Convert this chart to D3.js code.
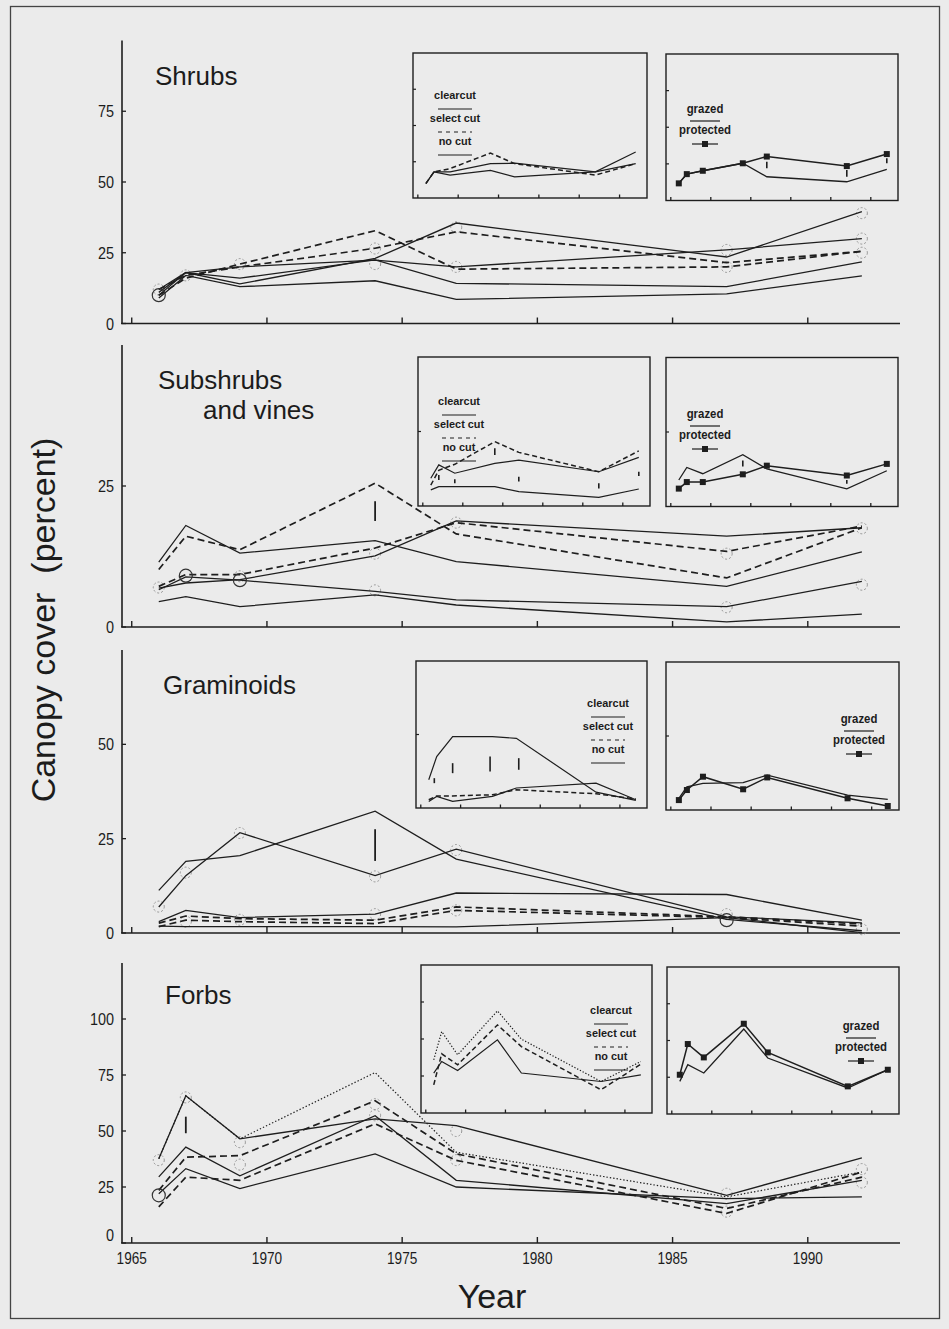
<!DOCTYPE html>
<html><head><meta charset="utf-8">
<script src="https://cdn.jsdelivr.net/npm/d3@7"></script>
<style>
html,body{margin:0;padding:0;background:#ebebeb;}
svg{display:block;}
text{font-family:"Liberation Sans",Arial,sans-serif;fill:#1c1c1c;}
</style></head><body>
<svg id="c" width="949" height="1329"></svg>
<script>
// ---------------- DATA ----------------
const years = [1966, 1967, 1969, 1974, 1977, 1987, 1992];
const xTickYears = [1965, 1970, 1975, 1980, 1985, 1990];
const xTickLabels = ["1965", "1970", "1975", "1980", "1985", "1990"];
const panelTitles = [["Shrubs"], ["Subshrubs", "and vines"], ["Graminoids"], ["Forbs"]];
const panelMax = [100, 50, 75, 125];
const panelTickValues = [[0, 25, 50, 75], [0, 25], [0, 25, 50], [0, 25, 50, 75, 100]];
const insetMax = [100, 50, 100, 100];
const insetTickValues = [[25, 50, 75], [25], [50], [25, 50, 75]];
const legendCutLabels = ["clearcut", "select cut", "no cut"];
const legendGrazeLabels = ["grazed", "protected"];

// main panels: six treatment lines each
const shrubsLines = [
  [12, 18, 14, 23, 35.5, 23.5, 39.5],
  [12, 17, 20, 26.6, 32.4, 21.5, 25.5],
  [11, 18, 20, 22.4, 20, 26, 30],
  [10, 16, 21, 32.8, 19.2, 20, 25.5],
  [10, 18, 16, 22.5, 14.2, 13, 21.8],
  [9, 17, 13, 15.1, 8.5, 10.5, 16.8]];
const subshrubsLines = [
  [11.5, 18, 13.1, 15.3, 11.6, 7.2, 13.3],
  [10.2, 16.1, 13.7, 25.5, 16.5, 8.7, 17.6],
  [6.9, 7.8, 8.4, 12.6, 18.8, 16.1, 17.6],
  [7.2, 9.3, 9.3, 14, 18.5, 13.4, 17.9],
  [6.6, 8.9, 8.3, 6.3, 4.8, 3.6, 8.1],
  [4.5, 5.4, 3.6, 5.7, 3.9, 0.9, 2.3]];
const graminoidsLines = [
  [11.3, 19, 20.5, 32.3, 19.6, 3.6, 0.6],
  [6.9, 15.2, 26.6, 15.2, 22.2, 4.3, 2.7],
  [3, 6, 4.1, 5, 10.6, 10.2, 3.4],
  [2.6, 4.5, 3.8, 3.4, 6.9, 4.3, 2.4],
  [1.7, 3.4, 3, 2.5, 6, 4.1, 1.8],
  [1.8, 1.7, 1.7, 1.7, 1.6, 4.1, 0.1]];
const forbsLines = [
  [37.6, 65.7, 46.5, 76.1, 40.5, 20.6, 31.7],
  [37.6, 65.7, 46.5, 55.4, 52.4, 21.3, 38],
  [29.5, 42.8, 30, 56.8, 28, 17.6, 28],
  [23.5, 38.3, 39, 63.5, 39.8, 15.4, 29.4],
  [16.1, 29.4, 28, 53.2, 36.9, 13.2, 31.7],
  [22, 33.2, 24.3, 39.8, 25, 19.8, 20.6]];
const shrubsKinds = ["solid", "dashed", "solid", "dashed", "solid", "solid"];
const subshrubsKinds = ["solid", "dashed", "solid", "dashed", "solid", "solid"];
const graminoidsKinds = ["solid", "solid", "solid", "dashed", "dashed", "solid"];
const forbsKinds = ["dotted", "solid", "solid", "dashed", "dashed", "solid"];

// LSD bars [year, low, high]
const subshrubsBars = [[1974, 18.8, 22.3]];
const graminoidsBars = [[1974, 19.1, 27.5]];
const forbsBars = [[1967, 49, 56.4]];
// open circles (solid outline) [year, value]
const shrubsRings = [[1966, 10]];
const subshrubsRings = [[1967, 9.1], [1969, 8.3]];
const graminoidsRings = [[1987, 3.4]];
const forbsRings = [[1966, 21.3]];
// faint dotted circles [year, value]
const shrubsFaint = [[1966, 12], [1967, 17], [1969, 21], [1974, 26.5], [1974, 21], [1977, 34], [1977, 20], [1987, 26], [1987, 20], [1992, 39], [1992, 30], [1992, 25]];
const subshrubsFaint = [[1966, 7], [1969, 9], [1974, 13], [1974, 6.5], [1977, 18.5], [1987, 13], [1987, 3.5], [1992, 17.5], [1992, 7.5]];
const graminoidsFaint = [[1966, 7], [1967, 16], [1967, 3], [1969, 26.5], [1969, 3.5], [1974, 15], [1974, 5], [1977, 22], [1977, 6], [1987, 5], [1992, 1]];
const forbsFaint = [[1966, 37], [1967, 65], [1969, 45], [1969, 35], [1974, 62], [1974, 57], [1977, 50], [1977, 37], [1987, 22], [1987, 14], [1992, 33], [1992, 27]];

// insets A: cutting treatments
const shrubsInsetCut = [[10, 18, 15.8, 19, 14.6, 18, 23.7], [10, 18, 18, 23.7, 24, 18, 31.7], [10, 18, 20.3, 31, 23.7, 15.8, 23.7]];
const subshrubsInsetCut = [[9.3, 13.8, 11, 14.3, 15.4, 11.5, 16.3], [7, 12, 14, 21.6, 18, 11.5, 18.5], [5.4, 6.5, 6.5, 6.5, 4.8, 2.9, 5.7]];
const graminoidsInsetCut = [[19.2, 35, 48.5, 48.5, 47.4, 10.8, 5.2], [4.5, 7.9, 4.5, 7.9, 13.6, 16.9, 5.6], [5.6, 8.2, 8.2, 9, 12.4, 9.7, 6.1]];
const forbsInsetCut = [[35.9, 55, 39.3, 69, 49.9, 21.3, 34.8], [19, 40, 32.6, 59.5, 44.9, 15.7, 33], [27, 34.8, 28.7, 49.4, 27, 21.3, 25.8]];
const shrubsInsetKinds = ["solid", "solid", "dashed"];
const subshrubsInsetKinds = ["solid", "dashed", "solid"];
const graminoidsInsetKinds = ["solid", "solid", "dashed"];
const forbsInsetKinds = ["dotted", "dashed", "solid"];
// insets B: grazing treatments
const shrubsGrazed = [11.7, 18, 20.3, 25.4, 16.2, 12.8, 21.3];
const shrubsProtected = [11.7, 18, 20.3, 25.4, 30, 23.5, 31.7];
const subshrubsGrazed = [8.9, 13.1, 11, 17.4, 12.6, 5.9, 12];
const subshrubsProtected = [6, 8.2, 8.2, 10.8, 13.7, 10.4, 14.3];
const graminoidsGrazed = [7.9, 15.7, 18, 18.5, 23.6, 10, 7.2];
const graminoidsProtected = [6.7, 13.5, 22.5, 14, 22, 7.9, 2.7];
const forbsGrazed = [22.2, 33.5, 27.9, 57.8, 38.1, 17.7, 30.1];
const forbsProtected = [26.7, 47.6, 38.5, 61.4, 41.9, 18.8, 30.1];
// inset small bars
const shrubsInsetBBars = [[1977, 22, 26.5], [1987, 16.2, 20.8], [1992, 25.4, 28.8]];
const subshrubsInsetABars = [[1967, 8.7, 10.4], [1969, 7.6, 9], [1974, 17.1, 19.4], [1977, 8.2, 9.8], [1987, 5.9, 7.6], [1992, 10.1, 11.5]];
const subshrubsInsetBBars = [[1974, 13.4, 15.4], [1987, 7.6, 8.9]];
const graminoidsInsetABars = [[1966.7, 16.9, 20.3], [1969, 23.7, 30.5], [1973.7, 24.8, 35], [1977.3, 26, 33.9]];

// ---------------- DRAW ----------------
const W = 949, H = 1329;
const ink = "#1e1e1e";
const svg = d3.select("#c");
svg.append("rect").attr("width", W).attr("height", H).attr("fill", "#ebebeb");
svg.append("rect").attr("x", 10.5).attr("y", 6.5).attr("width", 929).attr("height", 1312)
  .attr("fill", "none").attr("stroke", "#444").attr("stroke-width", 1.3);

const x = d3.scaleLinear().domain([1964.64, 1993.41]).range([122, 900]);

const dashOf = k => k === "dashed" ? "7,4" : (k === "dotted" ? "1.4,2" : null);

const panels = [
  {lines: shrubsLines, kinds: shrubsKinds, bars: [], rings: shrubsRings, faint: shrubsFaint,
   icut: shrubsInsetCut, ikinds: shrubsInsetKinds, gz: shrubsGrazed, pr: shrubsProtected, iabars: [], ibbars: shrubsInsetBBars},
  {lines: subshrubsLines, kinds: subshrubsKinds, bars: subshrubsBars, rings: subshrubsRings, faint: subshrubsFaint,
   icut: subshrubsInsetCut, ikinds: subshrubsInsetKinds, gz: subshrubsGrazed, pr: subshrubsProtected, iabars: subshrubsInsetABars, ibbars: subshrubsInsetBBars},
  {lines: graminoidsLines, kinds: graminoidsKinds, bars: graminoidsBars, rings: graminoidsRings, faint: graminoidsFaint,
   icut: graminoidsInsetCut, ikinds: graminoidsInsetKinds, gz: graminoidsGrazed, pr: graminoidsProtected, iabars: graminoidsInsetABars, ibbars: []},
  {lines: forbsLines, kinds: forbsKinds, bars: forbsBars, rings: forbsRings, faint: forbsFaint,
   icut: forbsInsetCut, ikinds: forbsInsetKinds, gz: forbsGrazed, pr: forbsProtected, iabars: [], ibbars: []}
];

const layout = [
  {top: 40.5, bottom: 323.5, title: [[155, 85]], insA: [413, 53, 647, 198], insB: [666, 54, 898, 200.5], legA: [455, 99], legB: [705, 112.5]},
  {top: 345, bottom: 627, title: [[158, 389], [203, 419]], insA: [418, 357, 650, 506], insB: [666, 357.5, 898, 506.5], legA: [459, 405], legB: [705, 417.5]},
  {top: 650, bottom: 933, title: [[163, 694]], insA: [416, 661, 647, 808], insB: [666, 662, 899, 810], legA: [608, 707], legB: [859, 722.5]},
  {top: 963, bottom: 1243, title: [[165, 1004]], insA: [421, 965, 652, 1113], insB: [667, 967, 899, 1114], legA: [611, 1014], legB: [861, 1029.5]}
];

function narrowText(g, tx, ty, str, size, anchor, sx) {
  return g.append("text").attr("transform", `translate(${tx},${ty}) scale(${sx},1)`)
    .attr("text-anchor", anchor).attr("font-size", size).text(str);
}

panels.forEach((p, pi) => {
  const L = layout[pi];
  const g = svg.append("g");
  const y = d3.scaleLinear().domain([0, panelMax[pi]]).range([L.bottom, L.top]);

  // axes
  g.append("line").attr("x1", 122).attr("x2", 122).attr("y1", L.top).attr("y2", L.bottom).attr("stroke", ink).attr("stroke-width", 1.6);
  g.append("line").attr("x1", 121).attr("x2", 900).attr("y1", L.bottom).attr("y2", L.bottom).attr("stroke", ink).attr("stroke-width", 1.6);
  xTickYears.forEach((yr, i) => {
    g.append("line").attr("x1", x(yr)).attr("x2", x(yr)).attr("y1", L.bottom).attr("y2", L.bottom - 6).attr("stroke", ink).attr("stroke-width", 1.4);
    if (pi === 3) narrowText(g, x(yr), L.bottom + 21, xTickLabels[i], 17, "middle", 0.8);
  });
  panelTickValues[pi].forEach(v => {
    g.append("line").attr("x1", 122).attr("x2", 126).attr("y1", y(v)).attr("y2", y(v)).attr("stroke", ink).attr("stroke-width", 1.3);
    const dy = (pi === 3 && v === 0) ? -2 : 6;
    narrowText(g, 114, y(v) + dy, String(v), 17, "end", 0.85);
  });

  // title
  panelTitles[pi].forEach((t, i) => {
    g.append("text").attr("x", L.title[i][0]).attr("y", L.title[i][1]).attr("font-size", 26).text(t);
  });

  // faint dotted circles
  g.selectAll(null).data(p.faint).join("circle")
    .attr("cx", d => x(d[0])).attr("cy", d => y(d[1])).attr("r", 5.5)
    .attr("fill", "none").attr("stroke", "#8a8a8a").attr("stroke-width", 0.9).attr("stroke-dasharray", "2,2");

  // lines
  const line = d3.line().x((d, i) => x(years[i])).y(d => y(d));
  p.lines.forEach((vals, i) => {
    g.append("path").attr("d", line(vals)).attr("fill", "none").attr("stroke", ink)
      .attr("stroke-width", p.kinds[i] === "dotted" ? 1.2 : (p.kinds[i] === "dashed" ? 1.7 : 1.3))
      .attr("stroke-dasharray", dashOf(p.kinds[i]));
  });
  // rings
  g.selectAll(null).data(p.rings).join("circle")
    .attr("cx", d => x(d[0])).attr("cy", d => y(d[1])).attr("r", 6.5)
    .attr("fill", "none").attr("stroke", "#333").attr("stroke-width", 1.2);
  // LSD bars
  g.selectAll(null).data(p.bars).join("line")
    .attr("x1", d => x(d[0])).attr("x2", d => x(d[0])).attr("y1", d => y(d[1])).attr("y2", d => y(d[2]))
    .attr("stroke", ink).attr("stroke-width", 1.8);

  // ---- inset A ----
  const drawInsetFrame = (box, yi) => {
    const [x0, y0, x1, y1] = box;
    const xi = d3.scaleLinear().domain([1964.4, 1993.4]).range([x0, x1]);
    g.append("rect").attr("x", x0).attr("y", y0).attr("width", x1 - x0).attr("height", y1 - y0)
      .attr("fill", "#ebebeb").attr("stroke", ink).attr("stroke-width", 1.4);
    xTickYears.forEach(yr => g.append("line").attr("x1", xi(yr)).attr("x2", xi(yr)).attr("y1", y1).attr("y2", y1 - 3.5).attr("stroke", ink).attr("stroke-width", 1.3));
    insetTickValues[pi].forEach(v => g.append("line").attr("x1", x0).attr("x2", x0 + 3).attr("y1", yi(v)).attr("y2", yi(v)).attr("stroke", ink).attr("stroke-width", 1.2));
    return xi;
  };
  {
    const [x0, y0, x1, y1] = L.insA;
    const yi = d3.scaleLinear().domain([0, insetMax[pi]]).range([y1, y0]);
    const xi = drawInsetFrame(L.insA, yi);
    const il = d3.line().x((d, i) => xi(years[i])).y(d => yi(d));
    p.icut.forEach((vals, i) => {
      const k = p.ikinds[i];
      g.append("path").attr("d", il(vals)).attr("fill", "none").attr("stroke", ink)
        .attr("stroke-width", k === "dashed" ? 1.5 : 1.2)
        .attr("stroke-dasharray", k === "dashed" ? "5,3" : (k === "dotted" ? "1.3,1.8" : null));
    });
    g.selectAll(null).data(p.iabars).join("line")
      .attr("x1", d => xi(d[0])).attr("x2", d => xi(d[0])).attr("y1", d => yi(d[1])).attr("y2", d => yi(d[2]))
      .attr("stroke", ink).attr("stroke-width", 1.6);
    // legend
    const [cx, ly] = L.legA;
    legendCutLabels.forEach((t, i) => {
      const ty = ly + i * 23;
      narrowText(g, cx, ty, t, 11.5, "middle", 0.95).style("font-weight", "bold").attr("fill", "#222");
      g.append("line").attr("x1", cx - 17).attr("x2", cx + 17).attr("y1", ty + 10).attr("y2", ty + 10)
        .attr("stroke", ink).attr("stroke-width", 1.2).attr("stroke-dasharray", i === 1 ? "4,4" : null);
    });
  }
  // ---- inset B ----
  {
    const [x0, y0, x1, y1] = L.insB;
    const yi = d3.scaleLinear().domain([0, insetMax[pi]]).range([y1, y0]);
    const xi = drawInsetFrame(L.insB, yi);
    const il = d3.line().x((d, i) => xi(years[i])).y(d => yi(d));
    g.append("path").attr("d", il(p.gz)).attr("fill", "none").attr("stroke", ink).attr("stroke-width", 1.3);
    g.append("path").attr("d", il(p.pr)).attr("fill", "none").attr("stroke", ink).attr("stroke-width", 1.5);
    g.selectAll(null).data(p.pr).join("rect")
      .attr("x", (d, i) => xi(years[i]) - 3).attr("y", d => yi(d) - 3).attr("width", 6).attr("height", 6).attr("fill", ink);
    g.selectAll(null).data(p.ibbars).join("line")
      .attr("x1", d => xi(d[0])).attr("x2", d => xi(d[0])).attr("y1", d => yi(d[1])).attr("y2", d => yi(d[2]))
      .attr("stroke", ink).attr("stroke-width", 1.6);
    const [cx, ly] = L.legB;
    narrowText(g, cx, ly, legendGrazeLabels[0], 12, "middle", 0.95).style("font-weight", "bold").attr("fill", "#222");
    g.append("line").attr("x1", cx - 15).attr("x2", cx + 15).attr("y1", ly + 8.5).attr("y2", ly + 8.5).attr("stroke", ink).attr("stroke-width", 1.2);
    narrowText(g, cx, ly + 21.5, legendGrazeLabels[1], 12, "middle", 0.95).style("font-weight", "bold").attr("fill", "#222");
    g.append("line").attr("x1", cx - 13).attr("x2", cx + 13).attr("y1", ly + 31.5).attr("y2", ly + 31.5).attr("stroke", ink).attr("stroke-width", 1.2);
    g.append("rect").attr("x", cx - 3).attr("y", ly + 28.5).attr("width", 6).attr("height", 6).attr("fill", ink);
  }
});

// axis titles
svg.append("text").attr("transform", "translate(55,620) rotate(-90)").attr("text-anchor", "middle")
  .attr("font-size", 34).text("Canopy cover\u00a0\u00a0(percent)");
svg.append("text").attr("x", 492).attr("y", 1308).attr("text-anchor", "middle").attr("font-size", 34).text("Year");
</script>
</body></html>
